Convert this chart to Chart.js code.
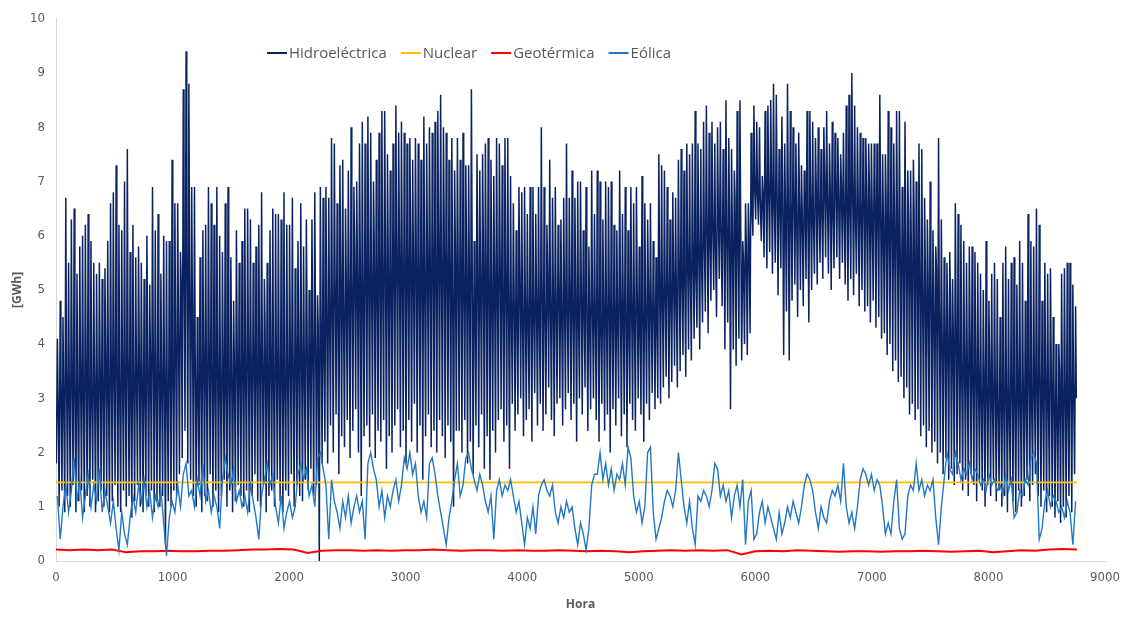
<!DOCTYPE html>
<html lang="es">
<head>
<meta charset="utf-8">
<title>Generación horaria por tecnología</title>
<script src="https://cdn.jsdelivr.net/npm/chart.js@4.4.1/dist/chart.umd.min.js"></script>
<style>
  html, body { margin: 0; padding: 0; background: #ffffff; }
  #wrap { width: 1130px; height: 617px; }
  canvas { display: block; }
</style>
</head>
<body>
<div id="wrap"><canvas id="chart" width="1130" height="617"></canvas></div>
<script>
// Axis ticks
const X_TICKS = [0, 1000, 2000, 3000, 4000, 5000, 6000, 7000, 8000, 9000];
const Y_TICKS = [0, 1, 2, 3, 4, 5, 6, 7, 8, 9, 10];

// Series names
const SERIES_LABELS = ['Hidroeléctrica', 'Nuclear', 'Geotérmica', 'Eólica'];

// Hidroeléctrica: daily peak [GWh], one value per day of the year (365)
const HYDRO_PEAK = [
  4.1, 4.8, 4.5, 6.7, 5.5, 6.3, 6.5, 5.3, 5.8, 6.0,
  6.2, 6.4, 5.9, 5.5, 5.3, 5.5, 5.2, 5.4, 5.9, 6.6,
  6.8, 7.3, 6.2, 6.1, 7.0, 7.6, 5.7, 6.2, 5.6, 5.8,
  5.5, 5.2, 6.0, 5.1, 6.9, 6.1, 6.4, 5.3, 6.0, 5.9,
  5.9, 7.4, 6.6, 6.6, 5.7, 8.7, 9.4, 8.8,
  6.9, 6.9, 4.5, 5.6, 6.1, 6.2, 6.9, 6.6, 6.2, 6.9,
  6.0, 5.7, 6.6, 6.9, 5.6, 4.8, 6.1, 5.5, 5.9, 6.5,
  6.5, 6.3, 5.5, 5.8, 6.2, 6.8, 5.2, 5.5, 6.1, 6.5,
  6.4, 6.4, 6.3, 6.8, 6.2, 6.2, 6.7, 5.4, 5.9, 6.6,
  5.8, 6.3, 5.0, 6.3, 6.8, 4.9, 6.9, 6.7,
  6.9, 6.7, 7.8, 7.7, 6.6, 7.3, 7.4, 6.5, 7.2, 8.0,
  6.9, 7.0, 7.7, 8.1, 7.7, 8.2, 7.9, 7.0, 7.4, 7.9,
  8.3, 8.3, 7.5, 7.2, 7.7, 8.4, 7.9, 8.1, 7.9, 7.7,
  7.8, 7.4, 7.8, 7.7, 7.4, 8.2, 7.7, 8.0, 7.9, 8.1,
  8.3, 8.6, 8.0, 7.9, 7.4, 7.8, 7.2, 7.8,
  7.4, 7.9, 7.3, 7.3, 8.7, 5.9, 7.5, 7.2, 7.5, 7.7,
  7.8, 7.4, 7.1, 7.8, 7.7, 7.3, 7.8, 7.8, 7.1, 6.6,
  6.1, 6.9, 6.8, 6.9, 6.4, 6.9, 6.9, 6.4, 6.9, 8.0,
  6.9, 6.2, 7.4, 6.7, 6.9, 6.2, 6.3, 6.7, 7.7, 6.7,
  7.2, 6.7, 7.0, 7.0, 6.1, 6.9, 5.8, 7.2, 6.4,
  7.2, 7.0, 6.3, 7.0, 6.9, 7.0, 6.2, 6.1, 7.2, 6.4,
  6.9, 6.1, 6.9, 6.6, 6.9, 5.8, 7.1, 6.6, 6.3, 6.6,
  5.9, 5.6, 7.5, 7.3, 7.2, 6.9, 6.3, 6.8, 6.7, 7.4,
  7.6, 7.2, 7.7, 7.5, 7.7, 8.3, 7.7, 7.6, 8.1, 8.4,
  7.9, 8.1, 7.7, 8.0, 8.1, 7.6, 8.5, 7.8, 7.6,
  7.2, 8.3, 8.5, 5.9, 6.6, 6.6, 7.9, 8.4, 8.1, 8.0,
  7.1, 8.3, 8.4, 8.5, 8.8, 8.6, 7.6, 8.2, 7.7, 8.8,
  8.3, 8.0, 7.7, 7.9, 7.3, 7.2, 8.3, 8.3, 8.1, 7.8,
  8.0, 7.6, 8.0, 8.3, 7.7, 8.1, 7.9, 7.8, 7.5, 7.9,
  8.4, 8.6, 9.0, 8.4, 8.0, 7.9, 7.8, 7.8,
  7.7, 7.7, 7.7, 7.7, 8.6, 7.5, 7.5, 8.3, 8.0, 7.7,
  8.3, 8.3, 6.9, 8.1, 7.2, 7.2, 7.4, 7.0, 7.7, 7.6,
  6.7, 6.3, 7.0, 6.1, 5.8, 7.8, 6.3, 5.6, 5.5, 5.7,
  5.2, 6.6, 6.4, 6.2, 5.9, 5.5, 5.8, 5.8, 5.7, 5.5,
  5.3, 5.0, 5.9, 4.8, 5.3, 5.5, 5.2,
  4.5, 5.5, 5.8, 5.2, 5.5, 5.6, 5.1, 5.9, 5.5, 4.8,
  6.4, 5.9, 5.8, 6.5, 6.2, 4.8, 5.5, 5.3, 5.4, 4.5,
  4.0, 4.0, 5.3, 5.4, 5.5, 5.5, 5.1, 4.7
];

// Hidroeléctrica: evening level after the peak [GWh] (365)
const HYDRO_EVENING = [
  3.0, 3.4, 3.1, 3.5, 3.2, 3.6, 3.3, 3.2, 3.6, 3.3, 3.7, 3.4, 3.1, 3.5,
  3.4, 3.8, 3.5, 3.9, 3.3, 3.7, 3.6, 3.7, 3.3, 3.6, 3.4, 3.8, 3.2, 3.5,
  3.6, 4.0, 3.7, 3.5, 3.9, 3.8, 4.1, 3.4, 3.8, 3.5, 3.7, 3.3, 3.9, 3.6,
  4.2, 4.6, 5.2, 5.8, 6.0, 5.4, 4.8, 3.9, 3.5, 3.8, 4.0, 3.6, 3.9, 3.7,
  3.4, 3.8, 3.5, 3.7, 3.3, 3.6, 3.9, 3.7, 4.1, 3.8, 4.0, 3.6, 4.2, 3.9,
  4.2, 3.8, 4.1, 3.9, 4.3, 3.7, 4.0, 3.5, 3.9, 3.6, 3.8, 3.4, 3.7, 4.0,
  3.9, 4.3, 4.0, 4.2, 3.8, 4.4, 4.1, 4.2, 4.6, 4.3, 4.5, 3.9, 4.8, 4.7,
  5.0, 5.4, 5.1, 5.5, 4.9, 5.3, 5.2, 5.4, 5.8, 5.5, 5.7, 5.3, 5.9, 5.6,
  5.6, 6.0, 5.7, 5.9, 5.5, 6.1, 5.8, 5.8, 6.2, 5.9, 6.1, 5.7, 6.3, 6.0,
  6.1, 5.7, 6.0, 5.8, 6.2, 5.6, 5.9, 5.9, 6.3, 6.0, 6.2, 5.8, 6.4, 6.1,
  6.0, 5.6, 5.9, 5.7, 6.1, 5.5, 5.8, 5.5, 5.9, 5.2, 5.8, 5.4, 6.0, 5.7,
  5.7, 5.3, 5.6, 5.4, 5.8, 5.2, 5.5, 5.2, 4.8, 5.1, 4.9, 5.3, 4.7, 5.0,
  4.7, 5.1, 4.8, 5.0, 4.6, 5.2, 4.9, 5.3, 4.9, 5.2, 5.0, 5.4, 4.8, 5.1,
  4.8, 5.2, 4.9, 5.1, 4.7, 5.3, 5.0, 5.0, 4.6, 4.9, 4.7, 5.1, 4.5, 4.8,
  4.7, 5.1, 4.8, 5.0, 4.6, 5.2, 4.9, 5.0, 4.6, 4.9, 4.7, 5.1, 4.5, 4.8,
  4.8, 5.2, 4.9, 5.1, 4.7, 5.3, 5.0, 5.1, 5.5, 5.2, 5.4, 5.0, 5.6, 5.3,
  5.4, 5.8, 5.5, 5.7, 5.3, 5.9, 5.6, 6.0, 6.4, 6.1, 6.3, 5.9, 6.5, 6.2,
  6.6, 6.2, 6.5, 6.3, 6.7, 6.1, 6.4, 5.6, 5.9, 6.0, 6.6, 6.9, 6.8, 6.7,
  6.8, 7.2, 6.9, 7.1, 6.7, 7.0, 6.8, 7.0, 6.6, 6.9, 6.7, 7.1, 6.5, 6.8,
  6.5, 6.9, 6.6, 6.8, 6.4, 7.0, 6.7, 6.7, 7.1, 6.8, 7.0, 6.6, 7.2, 6.9,
  7.0, 6.6, 6.9, 6.7, 7.1, 6.5, 6.8, 6.7, 7.1, 6.8, 7.0, 6.6, 7.2, 6.9,
  6.8, 6.4, 6.7, 6.5, 6.9, 6.3, 6.6, 6.0, 6.4, 6.1, 6.3, 5.9, 6.5, 6.2,
  5.6, 5.2, 5.5, 5.3, 5.7, 5.1, 5.4, 4.8, 4.4, 4.7, 4.5, 4.9, 4.3, 4.6,
  4.1, 3.7, 4.0, 3.8, 4.2, 3.6, 3.9, 3.6, 3.2, 3.5, 3.3, 3.7, 3.1, 3.4,
  3.0, 3.4, 3.1, 3.3, 2.9, 3.5, 3.2, 3.5, 3.1, 3.4, 3.2, 3.6, 3.0, 3.3,
  3.3, 3.7, 3.4, 3.6, 3.2, 3.8, 3.5, 3.1, 3.5, 3.2, 3.4, 3.0, 3.6, 3.3,
  3.0
];

// Hidroeléctrica: daily minimum [GWh] (365)
const HYDRO_LOW = [
  1.8, 1.0, 1.3, 0.9, 1.2, 1.0, 1.4, 0.9, 1.1, 1.3,
  0.9, 1.2, 1.0, 1.5, 0.9, 1.1, 1.3, 1.0, 1.2, 0.9,
  1.1, 1.4, 1.0, 0.9, 1.3, 1.0, 1.2, 0.8, 1.1, 1.4,
  1.0, 0.9, 1.2, 1.0, 1.3, 0.9, 1.1, 1.0, 1.2, 0.3,
  1.1, 1.0, 1.3, 1.2, 1.6, 1.9, 2.4, 1.8,
  1.5, 1.2, 1.0, 1.4, 0.9, 1.2, 1.1, 1.6, 1.0, 1.3,
  0.9, 1.2, 1.5, 1.0, 1.3, 0.9, 1.1, 1.4, 1.2, 1.0,
  1.3, 0.9, 1.2, 1.6, 1.1, 1.0, 1.4, 0.9, 1.2, 1.3,
  1.0, 1.5, 1.1, 0.9, 1.3, 1.2, 1.6, 1.0, 1.4, 1.2,
  1.1, 1.5, 1.3, 1.7, 1.2, 1.4, 0.0, 1.8,
  2.2, 1.8, 2.5, 2.0, 2.7, 1.6, 2.3, 2.1, 2.6, 1.9,
  2.4, 2.8, 2.0, 1.2, 2.3, 2.5, 2.1, 2.7, 1.9, 2.4,
  2.2, 2.6, 1.7, 2.3, 2.0, 2.5, 2.8, 2.1, 2.4, 1.8,
  2.6, 2.2, 2.9, 2.0, 2.5, 1.5, 2.3, 2.7, 2.1, 2.4,
  2.0, 2.6, 2.3, 1.9, 2.5, 2.2, 1.0, 2.4,
  2.4, 2.0, 2.6, 1.8, 2.2, 1.6, 2.5, 2.1, 2.7, 1.7,
  2.3, 1.5, 2.4, 2.0, 2.6, 2.8, 2.2, 2.5, 1.7, 2.9,
  2.4, 2.7, 3.0, 2.3, 2.6, 2.8, 2.2, 3.1, 2.5, 2.9,
  2.4, 2.7, 3.2, 2.6, 2.3, 2.9, 3.0, 2.5, 2.8, 3.1,
  2.6, 2.9, 2.2, 3.0, 2.7, 3.2, 2.4, 2.8, 3.0,
  2.6, 2.2, 2.9, 2.4, 2.7, 2.0, 2.8, 2.5, 3.0, 2.3,
  2.7, 2.1, 2.9, 2.6, 2.4, 3.0, 2.7, 2.2, 2.9, 2.6,
  3.1, 2.8, 3.0, 2.9, 3.2, 3.4, 3.0, 3.3, 3.6, 3.2,
  3.5, 3.8, 3.4, 3.9, 3.7, 4.1, 4.3, 3.9, 4.4, 4.6,
  4.2, 4.8, 5.0, 4.5, 5.2, 4.7, 3.9, 4.4, 2.8,
  3.9, 3.6, 4.1, 3.7, 4.0, 3.8, 4.2, 6.0, 6.3, 6.2,
  5.9, 5.6, 5.4, 5.7, 5.3, 5.5, 4.9, 5.4, 3.8, 4.6,
  3.7, 4.8, 5.1, 4.5, 5.0, 4.7, 5.2, 4.4, 5.0, 5.3,
  5.1, 5.5, 5.2, 5.6, 5.3, 5.0, 5.4, 5.6, 5.2, 5.5,
  5.1, 4.8, 5.2, 4.9, 5.3, 4.7, 5.0, 4.6,
  4.7, 4.4, 4.8, 4.3, 4.5, 4.1, 4.2, 3.8, 4.0, 3.5,
  3.7, 3.3, 3.4, 3.0, 3.2, 2.7, 2.9, 2.6, 2.8, 2.3,
  2.5, 2.1, 2.4, 2.0, 2.2, 1.8, 2.0, 1.6, 1.9, 1.5,
  1.7, 1.4, 1.6, 1.8, 1.3, 1.5, 1.2, 1.6, 1.4, 1.1,
  1.5, 1.3, 1.0, 1.4, 1.2, 1.5, 1.1,
  1.3, 1.0, 1.2, 0.9, 1.4, 1.1, 0.9, 1.3, 1.0, 1.2,
  1.5, 1.1, 1.4, 1.6, 1.2, 1.0, 1.3, 0.9, 1.2, 1.0,
  0.8, 1.1, 0.7, 1.0, 0.8, 1.2, 0.9, 1.6
];

// Eólica: daily value [GWh] (365)
const WIND_DAILY = [
  1.2, 0.4, 1.0, 1.4, 0.9, 1.3, 1.9, 1.1, 1.5, 0.8,
  1.2, 1.6, 1.0, 1.4, 1.1, 1.7, 0.9, 1.3, 1.0, 0.7,
  1.1, 0.6, 0.2, 0.9, 0.5, 0.3, 0.8, 1.2, 0.9, 1.4,
  1.1, 1.5, 1.0, 1.3, 0.8, 1.2, 1.0, 1.3, 0.7, 0.1,
  0.8, 1.1, 0.9, 1.4, 1.0, 1.6, 1.8, 1.2,
  1.3, 1.0, 1.5, 1.2, 1.8, 1.1, 1.3, 0.9, 1.2, 1.0,
  0.6, 1.5, 1.9, 1.6, 1.4, 1.7, 1.1, 1.3, 1.0, 1.2,
  0.9, 1.4, 1.1, 0.8, 0.4, 1.2, 1.5, 1.8, 1.4, 1.6,
  1.0, 0.7, 1.2, 0.6, 0.9, 1.1, 0.8, 1.0, 1.6, 1.8,
  1.5, 1.7, 1.2, 1.4, 1.0, 1.9, 2.0, 1.7,
  1.4, 0.4, 1.5, 1.1, 0.9, 0.6, 1.1, 0.8, 1.2, 0.7,
  1.0, 1.2, 0.9, 1.1, 0.4, 1.8, 2.0, 1.7, 1.5, 1.0,
  1.3, 0.8, 1.2, 1.0, 1.3, 1.5, 1.1, 1.4, 1.9, 1.7,
  2.0, 1.6, 1.8, 1.2, 0.9, 1.1, 0.8, 1.8, 1.9, 1.6,
  1.2, 0.9, 0.6, 0.3, 0.8, 1.1, 1.5, 1.8,
  1.2, 1.4, 1.9, 2.0, 1.7, 1.5, 1.3, 1.6, 1.4, 1.1,
  0.9, 1.2, 0.4, 1.3, 1.5, 1.2, 1.4, 1.3, 1.5, 1.2,
  0.9, 1.1, 0.7, 0.3, 0.8, 0.6, 1.0, 0.5, 1.2, 1.4,
  1.5, 1.3, 1.2, 1.4, 0.9, 0.7, 1.0, 0.8, 1.1, 0.9,
  1.0, 0.6, 0.3, 0.7, 0.5, 0.2, 0.6, 1.4, 1.6,
  1.6, 2.0, 1.5, 1.8, 1.4, 1.7, 1.3, 1.6, 1.5, 1.8,
  1.4, 2.1, 1.9, 1.2, 0.9, 1.1, 0.7, 1.0, 2.0, 2.1,
  0.9, 0.4, 0.6, 0.8, 1.1, 1.3, 1.2, 1.0, 1.3, 2.0,
  1.5, 1.0, 0.7, 1.1, 0.6, 0.3, 1.2, 1.1, 1.3, 1.2,
  1.0, 1.3, 1.8, 1.7, 1.2, 1.4, 1.1, 1.3, 0.8,
  1.2, 1.4, 1.0, 1.5, 0.3, 1.1, 1.3, 0.4, 0.5, 0.9,
  1.1, 0.7, 1.0, 0.8, 0.6, 0.4, 0.9, 0.5, 0.7, 1.0,
  0.8, 1.1, 0.9, 0.7, 1.0, 1.4, 1.6, 1.5, 1.3, 0.9,
  0.6, 1.0, 0.8, 0.7, 1.1, 1.3, 1.2, 1.4, 1.1, 1.8,
  1.0, 0.7, 0.9, 0.6, 1.0, 1.5, 1.7, 1.6,
  1.4, 1.6, 1.3, 1.5, 1.4, 1.0, 0.5, 0.7, 0.5, 1.1,
  1.5, 0.6, 0.4, 0.5, 1.2, 1.4, 1.3, 1.8, 1.3, 1.5,
  1.2, 1.4, 1.3, 1.5, 0.8, 0.3, 1.0, 1.5, 2.0, 1.7,
  1.6, 2.0, 1.8, 1.5, 1.7, 1.6, 1.8, 1.5, 1.7, 1.6,
  1.4, 1.5, 1.3, 1.6, 1.4, 1.5, 1.3,
  1.4, 1.2, 1.6, 1.3, 1.5, 0.8, 0.9, 1.3, 1.2, 1.5,
  1.4, 1.9, 2.0, 1.8, 0.4, 0.6, 1.1, 1.3, 1.0, 1.2,
  1.1, 0.9, 1.0, 0.8, 1.1, 0.9, 0.3, 1.1
];

// Geotérmica: value every 5 days [GWh] (hours 0, 120, ..., 8760)
const GEO_5DAY = [
  0.21, 0.20, 0.21, 0.20, 0.21, 0.16, 0.18, 0.18, 0.19, 0.18,
  0.18, 0.19, 0.19, 0.20, 0.21, 0.21, 0.22, 0.21, 0.15, 0.19,
  0.20, 0.20, 0.19, 0.20, 0.19, 0.20, 0.20, 0.21, 0.20, 0.19,
  0.20, 0.20, 0.19, 0.20, 0.19, 0.19, 0.20, 0.19, 0.18, 0.19,
  0.18, 0.16, 0.18, 0.19, 0.20, 0.19, 0.20, 0.19, 0.20, 0.12,
  0.18, 0.19, 0.18, 0.20, 0.19, 0.18, 0.17, 0.18, 0.18, 0.17,
  0.18, 0.18, 0.19, 0.18, 0.17, 0.18, 0.19, 0.16, 0.18, 0.20,
  0.19, 0.21, 0.22, 0.21
];

// Nuclear: constant output [GWh] at the start and end of the year
const NUCLEAR_HOURS = [0, 8760];
const NUCLEAR_GWH = [1.45, 1.45];

const HOURS_PER_DAY = 24;
const HOURS_PER_GEO_STEP = 120;

// Hourly positions for each series: night minimum, daytime peak, evening level
const hydroData = [];
HYDRO_PEAK.forEach((peak, d) => {
  const h0 = d * HOURS_PER_DAY;
  hydroData.push({ x: h0 + 3, y: HYDRO_LOW[d] });
  hydroData.push({ x: h0 + 12, y: peak });
  hydroData.push({ x: h0 + 18, y: HYDRO_EVENING[d] });
});
const windData = WIND_DAILY.map((v, d) => ({ x: d * HOURS_PER_DAY + 12, y: v }));
const geoData = GEO_5DAY.map((v, k) => ({ x: k * HOURS_PER_GEO_STEP, y: v }));
const nuclearData = NUCLEAR_HOURS.map((h, i) => ({ x: h, y: NUCLEAR_GWH[i] }));

const TEXT_COLOR = '#595959';
const AXIS_COLOR = '#d9d9d9';
const TICK_FONT = { family: "'Liberation Sans Narrow', 'DejaVu Sans Condensed', 'Liberation Sans', sans-serif", size: 13 };
const TITLE_FONT = { family: "'Open Sans', 'Noto Sans', sans-serif", size: 12, weight: 'bold' };
const LEGEND_FONT = "15px 'Open Sans', 'Noto Sans', sans-serif";

// Legend drawn inside the plot, as short coloured lines followed by the name
const lineLegend = {
  id: 'lineLegend',
  afterDraw(chart) {
    const ctx = chart.ctx;
    ctx.save();
    ctx.font = LEGEND_FONT;
    ctx.textBaseline = 'middle';
    let x = 267;
    const y = 53;
    chart.data.datasets.forEach(ds => {
      ctx.strokeStyle = ds.borderColor;
      ctx.lineWidth = 2;
      ctx.beginPath();
      ctx.moveTo(x, y);
      ctx.lineTo(x + 20, y);
      ctx.stroke();
      ctx.fillStyle = TEXT_COLOR;
      ctx.fillText(ds.label, x + 22, y + 1);
      x += 22 + ctx.measureText(ds.label).width + 14;
    });
    ctx.restore();
  }
};

const plainNumber = v => String(v);

new Chart(document.getElementById('chart'), {
  type: 'line',
  data: {
    datasets: [
      { label: SERIES_LABELS[0], data: hydroData, borderColor: '#0a2360', borderWidth: 1.5, order: 4 },
      { label: SERIES_LABELS[1], data: nuclearData, borderColor: '#ffc000', borderWidth: 1.8, order: 3 },
      { label: SERIES_LABELS[2], data: geoData, borderColor: '#ff0000', borderWidth: 2, order: 2 },
      { label: SERIES_LABELS[3], data: windData, borderColor: '#2378c3', borderWidth: 1.4, order: 1 }
    ]
  },
  options: {
    responsive: false,
    devicePixelRatio: 1,
    animation: false,
    layout: { padding: { top: 15, right: 25, left: 0, bottom: 0 } },
    elements: { point: { radius: 0, hoverRadius: 0 }, line: { tension: 0, fill: false } },
    plugins: { legend: { display: false }, tooltip: { enabled: false } },
    events: [],
    scales: {
      x: {
        type: 'linear',
        min: 0,
        max: 9000,
        afterBuildTicks: s => { s.ticks = X_TICKS.map(v => ({ value: v })); },
        afterFit: s => { s.height = 56; },
        ticks: { color: TEXT_COLOR, font: TICK_FONT, padding: 9, maxRotation: 0, autoSkip: false, callback: plainNumber },
        grid: { color: 'transparent', drawTicks: false },
        border: { display: true, color: AXIS_COLOR, width: 1 },
        title: { display: true, text: 'Hora', color: TEXT_COLOR, font: TITLE_FONT, padding: { top: 0, bottom: 5 } }
      },
      y: {
        type: 'linear',
        min: 0,
        max: 10,
        afterBuildTicks: s => { s.ticks = Y_TICKS.map(v => ({ value: v })); },
        afterFit: s => { s.width = 56; },
        ticks: { color: TEXT_COLOR, font: TICK_FONT, padding: 11, callback: plainNumber },
        grid: { color: 'transparent', drawTicks: false },
        border: { display: true, color: AXIS_COLOR, width: 1 },
        title: { display: true, text: '[GWh]', color: TEXT_COLOR, font: TITLE_FONT, padding: { top: 10, bottom: 0 } }
      }
    }
  },
  plugins: [lineLegend]
});
</script>
</body>
</html>
